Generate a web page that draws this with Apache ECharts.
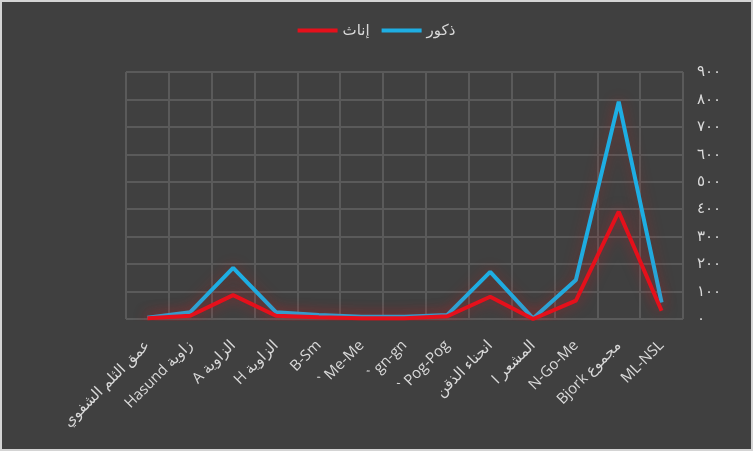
<!DOCTYPE html>
<html>
<head>
<meta charset="utf-8">
<script src="https://cdn.jsdelivr.net/npm/echarts@6/dist/echarts.min.js"></script>
<style>
html,body{margin:0;padding:0;background:#404040;}
#c{width:753px;height:451px;}
#frame{position:absolute;left:0;top:0;width:753px;height:451px;box-sizing:border-box;border:2px solid #d4d4d4;pointer-events:none;}
</style>
</head>
<body>
<div id="c"></div>
<div id="frame"></div>
<script>
const categories = [
  "عمق الثلم الشفوي",
  "Hasund زاوية",
  "A الزاوية",
  "H الزاوية",
  "B-Sm",
  "` Me-Me",
  "` gn-gn",
  "` Pog-Pog",
  "انحناء الذقن",
  "I المشعر",
  "N-Go-Me",
  "Bjork مجموع",
  "ML-NSL"
];
const seriesNames = ["إناث", "ذكور"];
const femaleValues = [3, 12, 87, 12, 6, 3, 3, 10, 81, 0, 67, 391, 30];
const maleValues = [5, 25, 186, 25, 15, 8, 8, 15, 172, 2, 142, 792, 60];
const yTicks = [0, 100, 200, 300, 400, 500, 600, 700, 800, 900];

const arabicDigits = "٠١٢٣٤٥٦٧٨٩";
function toArabic(n){ return String(n).replace(/[0-9]/g, d => arabicDigits[+d]); }

const chart = echarts.init(document.getElementById('c'), null, {renderer:'canvas'});
const font = "'Open Sans', 'DejaVu Sans', sans-serif";
chart.setOption({
  backgroundColor: '#404040',
  animation: false,
  legend: {
    data: seriesNames,
    top: 18,
    left: 'center',
    icon: 'rect',
    itemWidth: 40,
    itemHeight: 4,
    itemGap: 12,
    textStyle: {color: '#d9d9d9', fontSize: 15, fontFamily: font}
  },
  grid: {left: 126, right: 70, top: 72, bottom: 132},
  xAxis: {
    type: 'category',
    data: categories,
    boundaryGap: true,
    axisLine: {show: false},
    axisTick: {show: false},
    splitLine: {show: true, lineStyle: {color: '#5a5a5a', width: 2}},
    axisLabel: {color: '#d9d9d9', fontSize: 15, rotate: 45, interval: 0, margin: 24, fontFamily: font}
  },
  yAxis: {
    type: 'value',
    position: 'right',
    min: yTicks[0],
    max: yTicks[yTicks.length - 1],
    interval: 100,
    axisLine: {show: false},
    axisTick: {show: false},
    splitLine: {show: true, lineStyle: {color: '#5a5a5a', width: 2}},
    axisLabel: {color: '#d9d9d9', fontSize: 15, margin: 14, fontFamily: font, formatter: v => toArabic(v)}
  },
  series: [
    {
      name: seriesNames[0],
      type: 'line',
      data: femaleValues,
      symbol: 'none',
      z: 3,
      itemStyle: {color: '#e5101b'},
      lineStyle: {color: '#e5101b', width: 4, shadowColor: 'rgba(230,20,30,0.55)', shadowBlur: 14}
    },
    {
      name: seriesNames[1],
      type: 'line',
      data: maleValues,
      symbol: 'none',
      z: 2,
      itemStyle: {color: '#1eaee3'},
      lineStyle: {color: '#1eaee3', width: 4, shadowColor: 'rgba(200,30,30,0.45)', shadowBlur: 14}
    }
  ]
});
</script>
</body>
</html>
